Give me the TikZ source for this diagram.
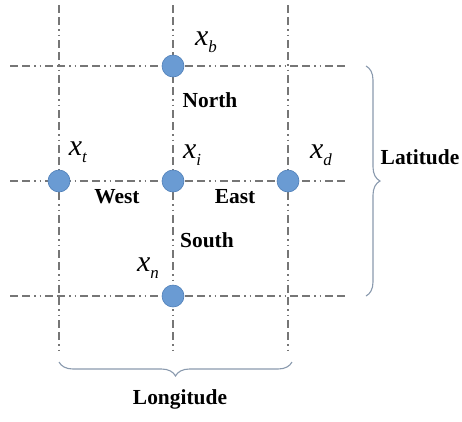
\documentclass[tikz,border=0pt]{standalone}
\usepackage{fontspec}
\setmainfont{Liberation Serif}
\usetikzlibrary{decorations.pathreplacing}
\definecolor{gridgray}{HTML}{767676}
\definecolor{nodeblue}{HTML}{6A9BD3}
\definecolor{nodeedge}{HTML}{4F7FB8}
\definecolor{bracecol}{HTML}{8A9AAE}
\newcommand{\varlab}[2]{\textit{x}\raisebox{-0.25em}{\fontsize{17}{17}\selectfont\textit{#2}}}
\tikzset{
  gridline/.style={draw=gridgray, line width=1.1bp, dash pattern=on 8bp off 4bp on 8bp off 4bp on 1.5bp off 4bp on 1.5bp off 4bp},
  pt/.style={circle, fill=nodeblue, draw=nodeedge, line width=0.6bp, minimum size=22bp, inner sep=0pt},
  dir/.style={font=\fontsize{21.5}{23}\selectfont\bfseries, inner sep=0pt},
  var/.style={font=\fontsize{30}{32}\selectfont, inner sep=0pt},
  bracestyle/.style={draw=bracecol, line width=1.1bp, decorate}
}
\begin{document}
\begin{tikzpicture}[x=1bp,y=-1bp]
\useasboundingbox (0,0) rectangle (462,421);
% grid coordinates
\coordinate (v1t) at (59,5);   \coordinate (v1b) at (59,350);
\coordinate (v2t) at (173,5);  \coordinate (v2b) at (173,350);
\coordinate (v3t) at (288,5);  \coordinate (v3b) at (288,350);
\coordinate (h1l) at (10,66);  \coordinate (h1r) at (345,66);
\coordinate (h2l) at (10,181); \coordinate (h2r) at (345,181);
\coordinate (h3l) at (10,296); \coordinate (h3r) at (345,296);
\draw[gridline] (v1t) -- (v1b);
\draw[gridline] (v2t) -- (v2b);
\draw[gridline] (v3t) -- (v3b);
\draw[gridline] (h1l) -- (h1r);
\draw[gridline] (h2l) -- (h2r);
\draw[gridline] (h3l) -- (h3r);
% points
\node[pt] (xb) at (173,66) {};
\node[pt] (xt) at (59,181) {};
\node[pt] (xi) at (173,181) {};
\node[pt] (xd) at (288,181) {};
\node[pt] (xn) at (173,296) {};
% variable labels
\node[var] (lb) at (206,42) {\varlab{x}{b}};
\node[var] (lt) at (78,152) {\varlab{x}{t}};
\node[var] (li) at (192,155) {\varlab{x}{i}};
\node[var] (ld) at (321,155) {\varlab{x}{d}};
\node[var] (ln) at (148,268) {\varlab{x}{n}};
% direction labels
\node[dir] (north) at (210,100) {North};
\node[dir] (west) at (117,197) {West};
\node[dir] (east) at (235,197) {East};
\node[dir] (south) at (207,240) {South};
% braces
\coordinate (rb1) at (366,66);
\coordinate (rb2) at (366,296);
\draw[bracestyle, decoration={brace, amplitude=14bp, aspect=0.5}] (rb1) -- (rb2);
\node[dir] (lat) at (420,157) {Latitude};
\coordinate (bb1) at (292,362);
\coordinate (bb2) at (59,362);
\draw[bracestyle, decoration={brace, amplitude=14bp, aspect=0.5}] (bb1) -- (bb2);
\node[dir] (lon) at (180,399) {Longitude};
\end{tikzpicture}
\end{document}
